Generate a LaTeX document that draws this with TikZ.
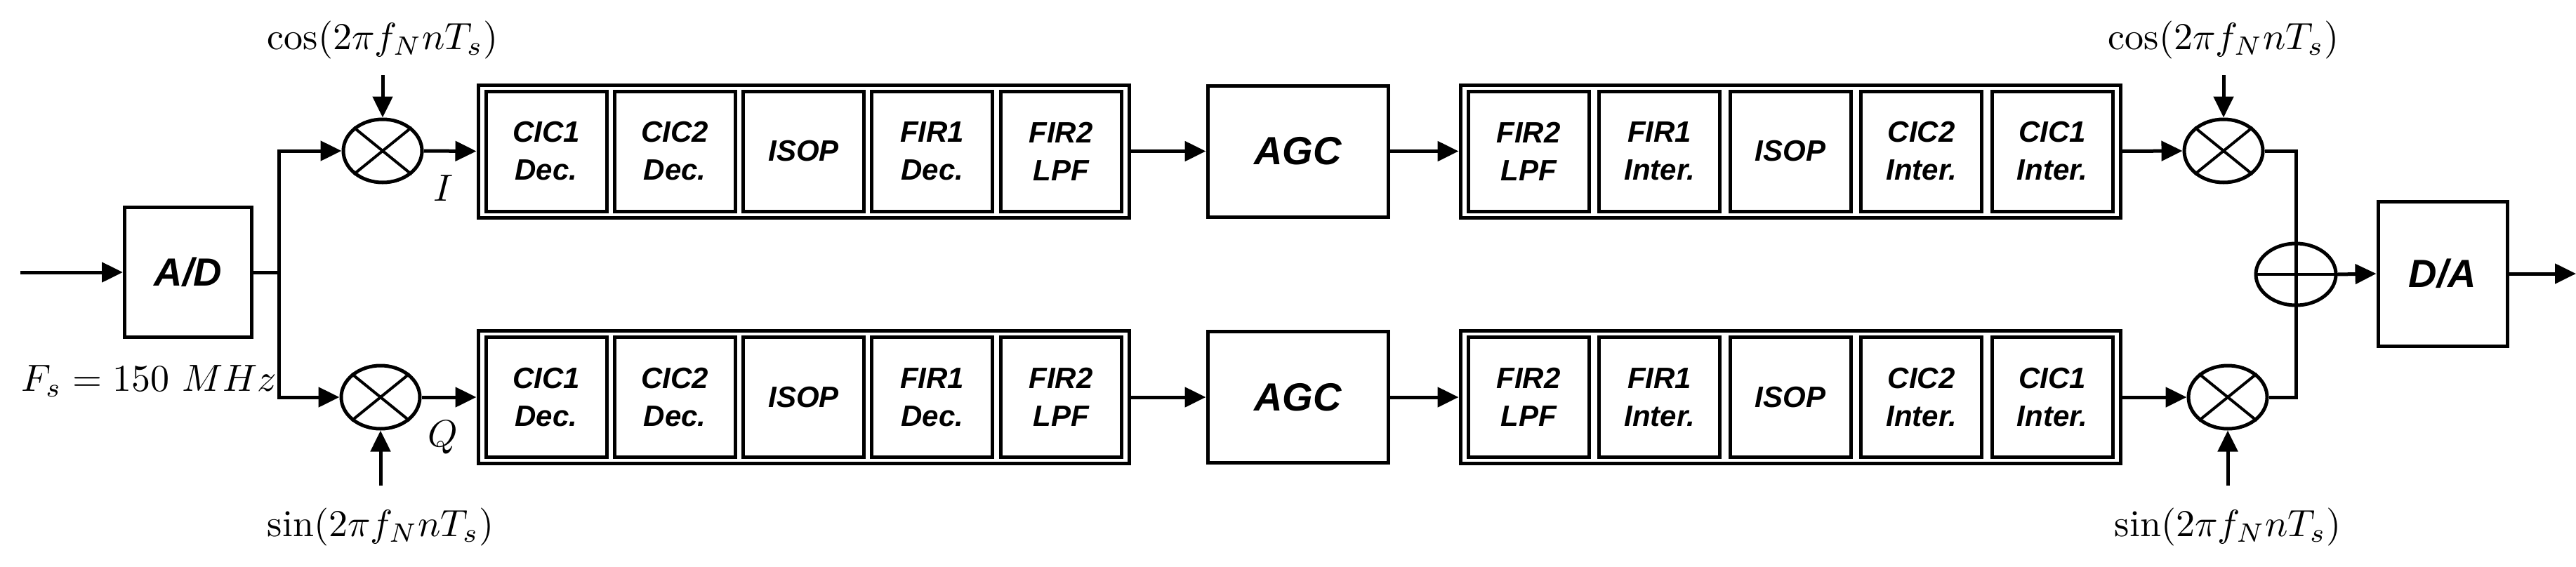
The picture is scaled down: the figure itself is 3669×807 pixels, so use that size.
\documentclass[tikz,border=0pt]{standalone}
\usepackage{graphicx}
\usepackage{fontspec}
\setsansfont{Liberation Sans}
\usetikzlibrary{arrows.meta,shapes.geometric,positioning}
\newcommand{\lblmath}[1]{\scalebox{5.4}{$#1$}}
\begin{document}
\begin{tikzpicture}[x=1pt,y=-1pt,line width=5pt,
  arr/.style={-{Triangle[length=30pt,width=28pt]}},
  blk/.style={draw,font=\sffamily\bfseries\itshape\fontsize{42}{54}\selectfont,align=center,inner sep=0pt,minimum width=172pt,minimum height=171pt},
  big/.style={draw,font=\sffamily\bfseries\itshape\fontsize{56}{60}\selectfont,inner sep=0pt},
  grp/.style={draw,inner sep=0pt},
  mix/.style={draw,ellipse,minimum width=112pt,minimum height=90pt,inner sep=0pt},
  lab/.style={inner sep=0pt}]
\useasboundingbox (0,0) rectangle (3669,807);
% A/D
\coordinate (in) at (29,388);
\node[big,minimum width=181pt,minimum height=185pt] (ad) at (268,388) {A/D};
\draw[arr] (in) -- (ad.west);
\coordinate (br) at (397,388);
\node[lab,anchor=west] (fs) at (28,543) {\lblmath{F_s = 150\ MHz}};
% mixers
\node[mix] (m1) at (545,215) {};
\node[mix] (m2) at (542,566) {};
\foreach \m in {m1,m2}{\draw[line width=4pt] (\m.north west)--(\m.south east) (\m.north east)--(\m.south west);}
\draw (ad.east) -- (br);
\draw[arr] (br) |- (m1.west);
\draw[arr] (br) |- (m2.west);
\node[lab] (c1) at (545,57) {\lblmath{\cos(2\pi f_N n T_s)}};
\node[lab] (s1) at (542,751) {\lblmath{\sin(2\pi f_N n T_s)}};
\coordinate (c1a) at (545,107);
\coordinate (s1a) at (542,692);
\draw[arr] (c1a) -- (m1.north);
\draw[arr] (s1a) -- (m2.south);
\node[lab] (I) at (631,268) {\lblmath{I}};
\node[lab] (Q) at (631,623) {\lblmath{Q}};
% groups
\node[grp,minimum width=927pt,minimum height=189pt] (g1) at (1144.5,215.5) {};
\node[grp,minimum width=927pt,minimum height=189pt] (g2) at (1144.5,566) {};
\node[big,minimum width=257pt,minimum height=187pt] (agc1) at (1848.5,215.5) {AGC};
\node[big,minimum width=257pt,minimum height=187pt] (agc2) at (1848.5,566) {AGC};
\node[grp,minimum width=940pt,minimum height=189pt] (g3) at (2550,215.5) {};
\node[grp,minimum width=940pt,minimum height=189pt] (g4) at (2550,566) {};
\foreach \t [count=\i] in {{CIC1\\Dec.},{CIC2\\Dec.},ISOP,{FIR1\\Dec.},{FIR2\\LPF}}{
  \node[blk] (a\i) at ({692+86+(\i-1)*183.25},215.5) {\t};
  \node[blk] (b\i) at ({692+86+(\i-1)*183.25},566) {\t};}
\foreach \t [count=\i] in {{FIR2\\LPF},{FIR1\\Inter.},ISOP,{CIC2\\Inter.},{CIC1\\Inter.}}{
  \node[blk] (c\i) at ({2091+86+(\i-1)*186.5},215.5) {\t};
  \node[blk] (d\i) at ({2091+86+(\i-1)*186.5},566) {\t};}
\draw[arr] (m1.east) -- (g1.west);
\draw[arr] (m2.east) -- (g2.west);
\draw[arr] (g1.east) -- (agc1.west);
\draw[arr] (g2.east) -- (agc2.west);
\draw[arr] (agc1.east) -- (g3.west);
\draw[arr] (agc2.east) -- (g4.west);
% right mixers
\node[mix] (m3) at (3167,215) {};
\node[mix] (m4) at (3173,566) {};
\foreach \m in {m3,m4}{\draw[line width=4pt] (\m.north west)--(\m.south east) (\m.north east)--(\m.south west);}
\draw[arr] (g3.east) -- (m3.west);
\draw[arr] (g4.east) -- (m4.west);
\node[lab] (c2) at (3167,57) {\lblmath{\cos(2\pi f_N n T_s)}};
\node[lab] (s2) at (3173,751) {\lblmath{\sin(2\pi f_N n T_s)}};
\coordinate (c2a) at (3167,107);
\coordinate (s2a) at (3173,692);
\draw[arr] (c2a) -- (m3.north);
\draw[arr] (s2a) -- (m4.south);
% adder
\node[mix,minimum height=88pt,minimum width=114pt] (add) at (3270,391) {};
\draw[line width=4pt] (add.west) -- (add.east);
\draw (m3.east) -| (add.north) -- (add.south) |- (m4.east);
\node[big,minimum width=184pt,minimum height=206pt] (da) at (3479,390) {D/A};
\coordinate (out) at (3669,390);
\draw[arr] (add.east) -- (da.west);
\draw[arr] (da.east) -- (out);
\end{tikzpicture}
\end{document}
